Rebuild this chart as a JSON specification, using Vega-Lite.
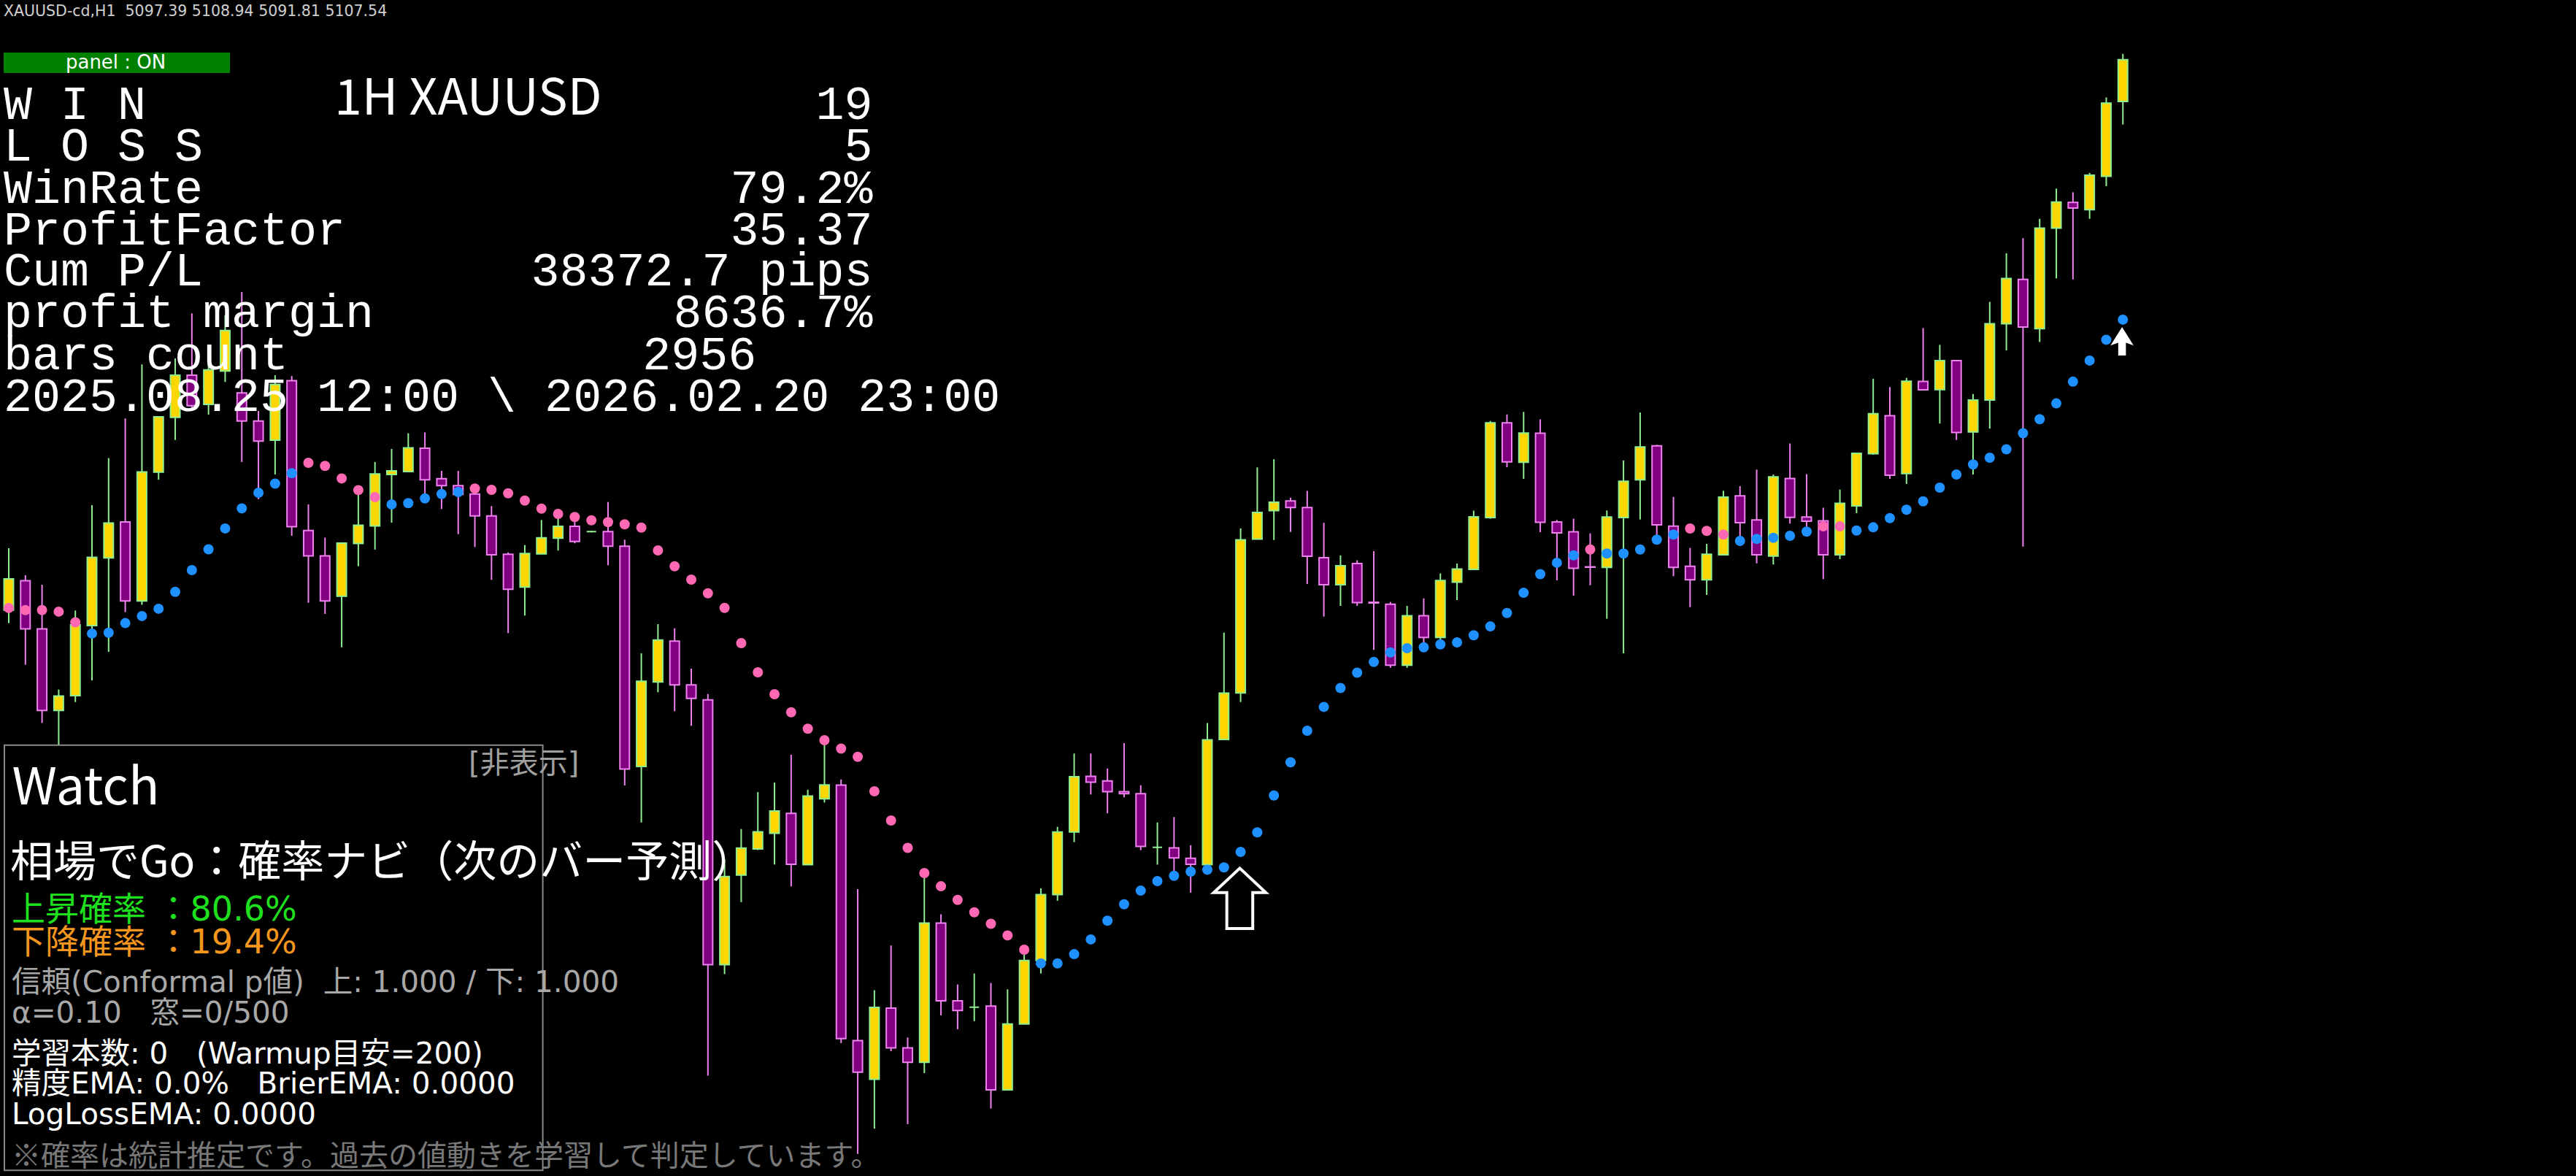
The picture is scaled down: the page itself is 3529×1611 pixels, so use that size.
{
"$schema": "https://vega.github.io/schema/vega-lite/v6.json",
"width": 3529, "height": 1611,
"autosize": {"type": "fit", "contains": "padding"},
"padding": 0,
"background": "#000000",
"config": {"view": {"stroke": null}},
"datasets": {
"candles": [
{"bar":0,"o":4974.08,"h":4989.07,"l":4970.91,"c":4981.66,"sar":4974.58,"side":"down"},
{"bar":1,"o":4981.21,"h":4982.54,"l":4960.81,"c":4969.53,"sar":4974.08,"side":"down"},
{"bar":2,"o":4969.53,"h":4980.22,"l":4946.70,"c":4949.74,"sar":4974.08,"side":"down"},
{"bar":3,"o":4949.74,"h":4954.81,"l":4941.46,"c":4953.21,"sar":4973.69,"side":"down"},
{"bar":4,"o":4953.34,"h":4973.96,"l":4951.76,"c":4970.49,"sar":4971.11,"side":"down"},
{"bar":5,"o":4970.29,"h":4999.52,"l":4957.02,"c":4986.84,"sar":4968.38,"side":"up"},
{"bar":6,"o":4986.72,"h":5010.93,"l":4963.96,"c":4995.20,"sar":4968.58,"side":"up"},
{"bar":7,"o":4995.44,"h":5020.54,"l":4973.57,"c":4976.29,"sar":4970.91,"side":"up"},
{"bar":8,"o":4976.29,"h":5033.62,"l":4975.34,"c":5007.59,"sar":4972.63,"side":"up"},
{"bar":9,"o":5007.53,"h":5020.93,"l":5005.69,"c":5020.93,"sar":4974.40,"side":"up"},
{"bar":10,"o":5020.81,"h":5035.09,"l":5015.32,"c":5031.02,"sar":4978.51,"side":"up"},
{"bar":11,"o":5031.02,"h":5046.01,"l":5022.88,"c":5023.64,"sar":4983.76,"side":"up"},
{"bar":12,"o":5023.94,"h":5034.69,"l":5021.46,"c":5032.30,"sar":4988.81,"side":"up"},
{"bar":13,"o":5032.03,"h":5045.59,"l":5029.38,"c":5041.87,"sar":4993.87,"side":"up"},
{"bar":14,"o":5026.72,"h":5051.20,"l":5009.98,"c":5019.92,"sar":4998.74,"side":"up"},
{"bar":15,"o":5019.91,"h":5022.35,"l":5000.95,"c":5015.04,"sar":5002.52,"side":"up"},
{"bar":16,"o":5015.29,"h":5031.02,"l":5006.95,"c":5028.76,"sar":5004.74,"side":"up"},
{"bar":17,"o":5029.71,"h":5030.84,"l":4992.10,"c":4994.31,"sar":5007.27,"side":"up"},
{"bar":18,"o":4993.36,"h":4999.69,"l":4975.85,"c":4987.23,"sar":5009.78,"side":"down"},
{"bar":19,"o":4987.23,"h":4991.66,"l":4973.14,"c":4976.29,"sar":5009.02,"side":"down"},
{"bar":20,"o":4977.43,"h":4990.33,"l":4965.04,"c":4990.33,"sar":5005.99,"side":"down"},
{"bar":21,"o":4990.21,"h":5002.52,"l":4984.70,"c":4994.63,"sar":5003.16,"side":"down"},
{"bar":22,"o":4994.49,"h":5009.98,"l":4988.74,"c":5007.07,"sar":5001.46,"side":"down"},
{"bar":23,"o":5006.95,"h":5013.14,"l":4995.27,"c":5007.83,"sar":4999.69,"side":"up"},
{"bar":24,"o":5007.66,"h":5016.95,"l":5007.66,"c":5013.41,"sar":4999.99,"side":"up"},
{"bar":25,"o":5013.32,"h":5017.16,"l":5000.45,"c":5005.66,"sar":5001.16,"side":"up"},
{"bar":26,"o":5005.94,"h":5007.83,"l":4998.58,"c":5004.24,"sar":5002.22,"side":"up"},
{"bar":27,"o":5004.24,"h":5007.83,"l":4992.49,"c":5002.12,"sar":5002.70,"side":"up"},
{"bar":28,"o":5002.22,"h":5002.22,"l":4989.37,"c":4996.91,"sar":5003.53,"side":"down"},
{"bar":29,"o":4996.91,"h":4999.29,"l":4981.41,"c":4987.48,"sar":5003.23,"side":"down"},
{"bar":30,"o":4987.60,"h":4988.06,"l":4968.49,"c":4979.11,"sar":5002.40,"side":"down"},
{"bar":31,"o":4979.64,"h":4989.83,"l":4972.74,"c":4987.78,"sar":5000.63,"side":"down"},
{"bar":32,"o":4987.71,"h":4995.92,"l":4987.71,"c":4991.60,"sar":4998.68,"side":"down"},
{"bar":33,"o":4991.50,"h":4996.33,"l":4988.49,"c":4994.38,"sar":4997.39,"side":"down"},
{"bar":34,"o":4994.38,"h":4995.44,"l":4990.26,"c":4990.72,"sar":4996.63,"side":"down"},
{"bar":35,"o":4993.09,"h":4993.30,"l":4992.90,"c":4993.09,"sar":4995.85,"side":"down"},
{"bar":36,"o":4993.09,"h":5000.28,"l":4984.95,"c":4989.55,"sar":4995.39,"side":"down"},
{"bar":37,"o":4989.55,"h":4991.14,"l":4931.55,"c":4935.53,"sar":4994.86,"side":"down"},
{"bar":38,"o":4936.15,"h":4963.58,"l":4922.57,"c":4956.81,"sar":4994.08,"side":"down"},
{"bar":39,"o":4956.63,"h":4970.66,"l":4954.15,"c":4966.82,"sar":4988.54,"side":"down"},
{"bar":40,"o":4966.54,"h":4969.66,"l":4949.55,"c":4955.92,"sar":4984.70,"side":"down"},
{"bar":41,"o":4955.92,"h":4959.87,"l":4946.01,"c":4952.66,"sar":4981.46,"side":"down"},
{"bar":42,"o":4952.31,"h":4953.73,"l":4861.19,"c":4888.09,"sar":4978.15,"side":"down"},
{"bar":43,"o":4888.09,"h":4913.62,"l":4885.81,"c":4909.48,"sar":4974.61,"side":"down"},
{"bar":44,"o":4909.81,"h":4921.00,"l":4903.26,"c":4916.38,"sar":4966.06,"side":"down"},
{"bar":45,"o":4916.17,"h":4929.95,"l":4915.88,"c":4920.31,"sar":4958.98,"side":"down"},
{"bar":46,"o":4919.95,"h":4932.26,"l":4912.38,"c":4925.35,"sar":4953.67,"side":"down"},
{"bar":47,"o":4924.79,"h":4939.00,"l":4907.07,"c":4912.43,"sar":4949.30,"side":"down"},
{"bar":48,"o":4912.36,"h":4930.52,"l":4912.36,"c":4928.96,"sar":4945.30,"side":"down"},
{"bar":49,"o":4928.31,"h":4942.17,"l":4927.41,"c":4931.69,"sar":4942.52,"side":"down"},
{"bar":50,"o":4931.64,"h":4933.00,"l":4869.07,"c":4870.18,"sar":4940.49,"side":"down"},
{"bar":51,"o":4869.69,"h":4906.40,"l":4842.22,"c":4862.02,"sar":4938.49,"side":"down"},
{"bar":52,"o":4860.29,"h":4881.90,"l":4848.32,"c":4877.76,"sar":4930.13,"side":"down"},
{"bar":53,"o":4877.56,"h":4892.75,"l":4867.12,"c":4867.90,"sar":4923.05,"side":"down"},
{"bar":54,"o":4867.90,"h":4870.43,"l":4849.42,"c":4864.41,"sar":4916.41,"side":"down"},
{"bar":55,"o":4864.41,"h":4909.76,"l":4861.81,"c":4898.20,"sar":4910.31,"side":"down"},
{"bar":56,"o":4898.20,"h":4900.31,"l":4875.81,"c":4879.32,"sar":4907.10,"side":"down"},
{"bar":57,"o":4879.32,"h":4883.30,"l":4872.45,"c":4877.00,"sar":4903.81,"side":"down"},
{"bar":58,"o":4877.78,"h":4885.95,"l":4874.41,"c":4877.78,"sar":4900.80,"side":"down"},
{"bar":59,"o":4878.06,"h":4883.65,"l":4853.21,"c":4857.76,"sar":4898.01,"side":"down"},
{"bar":60,"o":4857.76,"h":4882.11,"l":4857.76,"c":4873.72,"sar":4895.19,"side":"down"},
{"bar":61,"o":4873.72,"h":4890.50,"l":4873.72,"c":4889.10,"sar":4891.71,"side":"down"},
{"bar":62,"o":4889.10,"h":4906.61,"l":4885.95,"c":4905.07,"sar":4888.41,"side":"up"},
{"bar":63,"o":4905.07,"h":4921.51,"l":4903.60,"c":4920.26,"sar":4888.41,"side":"up"},
{"bar":64,"o":4920.26,"h":4939.30,"l":4917.81,"c":4933.69,"sar":4890.64,"side":"up"},
{"bar":65,"o":4933.76,"h":4939.30,"l":4929.35,"c":4932.36,"sar":4894.22,"side":"up"},
{"bar":66,"o":4932.65,"h":4935.65,"l":4924.80,"c":4930.06,"sar":4898.77,"side":"up"},
{"bar":67,"o":4930.06,"h":4941.81,"l":4928.66,"c":4929.57,"sar":4902.75,"side":"up"},
{"bar":68,"o":4929.57,"h":4931.60,"l":4915.85,"c":4916.75,"sar":4906.04,"side":"up"},
{"bar":69,"o":4916.54,"h":4922.57,"l":4912.34,"c":4916.54,"sar":4908.36,"side":"up"},
{"bar":70,"o":4916.43,"h":4923.90,"l":4910.80,"c":4913.97,"sar":4909.64,"side":"up"},
{"bar":71,"o":4913.90,"h":4917.07,"l":4905.55,"c":4912.45,"sar":4910.66,"side":"up"},
{"bar":72,"o":4912.34,"h":4946.68,"l":4912.34,"c":4942.61,"sar":4911.12,"side":"up"},
{"bar":73,"o":4942.70,"h":4968.61,"l":4942.70,"c":4953.92,"sar":4911.69,"side":"up"},
{"bar":74,"o":4953.99,"h":4993.89,"l":4951.78,"c":4991.13,"sar":4915.44,"side":"up"},
{"bar":75,"o":4991.29,"h":5008.67,"l":4991.29,"c":4997.76,"sar":4920.17,"side":"up"},
{"bar":76,"o":4998.17,"h":5010.65,"l":4991.06,"c":5000.22,"sar":4929.11,"side":"up"},
{"bar":77,"o":5000.52,"h":5001.32,"l":4993.02,"c":4998.95,"sar":4937.16,"side":"up"},
{"bar":78,"o":4998.95,"h":5002.99,"l":4980.38,"c":4987.11,"sar":4944.82,"side":"up"},
{"bar":79,"o":4986.79,"h":4995.23,"l":4972.49,"c":4980.22,"sar":4950.59,"side":"up"},
{"bar":80,"o":4980.22,"h":4987.34,"l":4975.09,"c":4984.81,"sar":4955.18,"side":"up"},
{"bar":81,"o":4985.36,"h":4986.15,"l":4975.09,"c":4975.89,"sar":4958.89,"side":"up"},
{"bar":82,"o":4975.97,"h":4988.36,"l":4964.42,"c":4975.80,"sar":4961.50,"side":"up"},
{"bar":83,"o":4975.48,"h":4976.05,"l":4960.08,"c":4960.70,"sar":4963.80,"side":"up"},
{"bar":84,"o":4960.70,"h":4975.09,"l":4960.08,"c":4972.72,"sar":4964.82,"side":"up"},
{"bar":85,"o":4972.72,"h":4976.91,"l":4966.01,"c":4967.43,"sar":4965.05,"side":"up"},
{"bar":86,"o":4967.43,"h":4982.98,"l":4966.79,"c":4981.25,"sar":4965.76,"side":"up"},
{"bar":87,"o":4980.86,"h":4985.36,"l":4976.51,"c":4984.01,"sar":4966.24,"side":"up"},
{"bar":88,"o":4983.94,"h":4998.19,"l":4983.94,"c":4996.68,"sar":4967.97,"side":"up"},
{"bar":89,"o":4996.51,"h":5019.92,"l":4996.21,"c":5019.46,"sar":4970.12,"side":"up"},
{"bar":90,"o":5019.46,"h":5021.52,"l":5008.72,"c":5010.01,"sar":4973.36,"side":"up"},
{"bar":91,"o":5009.91,"h":5022.12,"l":5005.89,"c":5016.99,"sar":4978.26,"side":"up"},
{"bar":92,"o":5016.95,"h":5020.31,"l":4992.97,"c":4995.36,"sar":4982.79,"side":"up"},
{"bar":93,"o":4995.44,"h":4995.92,"l":4981.28,"c":4992.79,"sar":4985.55,"side":"up"},
{"bar":94,"o":4993.06,"h":4996.24,"l":4977.57,"c":4984.21,"sar":4987.36,"side":"up"},
{"bar":95,"o":4984.56,"h":4992.67,"l":4980.10,"c":4984.47,"sar":4988.77,"side":"down"},
{"bar":96,"o":4984.42,"h":4998.22,"l":4971.96,"c":4996.63,"sar":4987.78,"side":"up"},
{"bar":97,"o":4996.51,"h":5010.37,"l":4963.58,"c":5005.30,"sar":4987.78,"side":"up"},
{"bar":98,"o":5005.66,"h":5021.99,"l":4996.03,"c":5013.62,"sar":4988.77,"side":"up"},
{"bar":99,"o":5013.91,"h":5014.15,"l":4992.21,"c":4994.74,"sar":4991.14,"side":"up"},
{"bar":100,"o":4994.44,"h":5001.52,"l":4982.29,"c":4984.42,"sar":4992.38,"side":"up"},
{"bar":101,"o":4984.70,"h":4989.13,"l":4974.79,"c":4981.41,"sar":4993.85,"side":"down"},
{"bar":102,"o":4981.41,"h":4990.13,"l":4977.74,"c":4987.60,"sar":4993.27,"side":"down"},
{"bar":103,"o":4987.48,"h":5003.00,"l":4987.48,"c":5001.46,"sar":4992.38,"side":"down"},
{"bar":104,"o":5001.76,"h":5004.12,"l":4990.90,"c":4995.27,"sar":4990.84,"side":"up"},
{"bar":105,"o":4995.92,"h":5008.14,"l":4985.41,"c":4987.48,"sar":4991.32,"side":"up"},
{"bar":106,"o":4987.18,"h":5006.95,"l":4985.13,"c":5006.37,"sar":4991.60,"side":"up"},
{"bar":107,"o":5005.98,"h":5014.47,"l":4995.04,"c":4996.56,"sar":4992.08,"side":"up"},
{"bar":108,"o":4996.63,"h":5007.04,"l":4994.26,"c":4995.62,"sar":4993.11,"side":"up"},
{"bar":109,"o":4995.71,"h":4998.90,"l":4981.59,"c":4987.48,"sar":4994.37,"side":"down"},
{"bar":110,"o":4987.48,"h":5003.29,"l":4986.42,"c":4999.96,"sar":4994.37,"side":"down"},
{"bar":111,"o":4999.34,"h":5012.08,"l":4997.57,"c":5012.08,"sar":4993.37,"side":"up"},
{"bar":112,"o":5011.99,"h":5030.14,"l":5011.73,"c":5021.68,"sar":4994.14,"side":"up"},
{"bar":113,"o":5021.20,"h":5028.14,"l":5005.92,"c":5006.77,"sar":4996.37,"side":"up"},
{"bar":114,"o":5007.16,"h":5030.37,"l":5004.65,"c":5029.54,"sar":4998.42,"side":"up"},
{"bar":115,"o":5029.50,"h":5042.47,"l":5027.48,"c":5027.48,"sar":5000.45,"side":"up"},
{"bar":116,"o":5027.52,"h":5038.40,"l":5019.30,"c":5034.58,"sar":5003.76,"side":"up"},
{"bar":117,"o":5034.58,"h":5034.58,"l":5015.32,"c":5017.11,"sar":5006.95,"side":"up"},
{"bar":118,"o":5017.27,"h":5026.46,"l":5006.95,"c":5025.00,"sar":5009.39,"side":"up"},
{"bar":119,"o":5025.00,"h":5048.81,"l":5018.08,"c":5043.52,"sar":5011.02,"side":"up"},
{"bar":120,"o":5043.52,"h":5060.58,"l":5037.02,"c":5054.49,"sar":5013.06,"side":"up"},
{"bar":121,"o":5054.24,"h":5064.24,"l":4989.48,"c":5042.70,"sar":5016.95,"side":"up"},
{"bar":122,"o":5042.30,"h":5068.95,"l":5039.06,"c":5066.69,"sar":5020.37,"side":"up"},
{"bar":123,"o":5066.69,"h":5076.28,"l":5054.49,"c":5073.02,"sar":5024.19,"side":"up"},
{"bar":124,"o":5072.94,"h":5075.38,"l":5054.24,"c":5071.55,"sar":5029.46,"side":"up"},
{"bar":125,"o":5071.15,"h":5080.09,"l":5068.95,"c":5079.52,"sar":5034.58,"side":"up"},
{"bar":126,"o":5079.27,"h":5098.37,"l":5076.85,"c":5096.99,"sar":5039.62,"side":"up"},
{"bar":127,"o":5097.39,"h":5108.94,"l":5091.81,"c":5107.54,"sar":5044.49,"side":"up"}
],
"watch_frame": [{"x0":-0.262,"x1":32.08,"p0":4941.34,"p1":4838.22}],
"panel_frame": [{"x0":-0.3061,"x1":13.29,"p0":5109.26,"p1":5104.3}],
"entry_arrow": [{"bar":73.95,"price":4904.17}],
"signal_arrow": [{"bar":126.95,"price":5039.25}],
"header": [{"text":"XAUUSD-cd,H1\u00a0\u00a05097.39 5108.94 5091.81 5107.54","bar":-0.306,"price":5118.07}],
"panel_label": [{"text":"panel : ON","bar":6.43,"price":5106.78}],
"title": [{"text":"1H XAUUSD","bar":27.59,"price":5094.21}],
"stats_labels": [
{"text":"W I N","bar":-0.306,"price":5093.18},
{"text":"L O S S","bar":-0.306,"price":5083.06},
{"text":"WinRate","bar":-0.306,"price":5072.88},
{"text":"ProfitFactor","bar":-0.306,"price":5062.74},
{"text":"Cum P/L","bar":-0.306,"price":5052.72},
{"text":"profit margin","bar":-0.306,"price":5042.63},
{"text":"bars count","bar":-0.306,"price":5032.44},
{"text":"2025.08.25 12:00 \\ 2026.02.20 23:00","bar":-0.306,"price":5022.35}
],
"stats_values": [
{"text":"19","bar":51.90,"price":5093.18},
{"text":"5","bar":51.90,"price":5083.06},
{"text":"79.2%","bar":51.90,"price":5072.88},
{"text":"35.37","bar":51.90,"price":5062.74},
{"text":"38372.7 pips","bar":51.90,"price":5052.72},
{"text":"8636.7%","bar":51.90,"price":5042.63},
{"text":"2956","bar":44.91,"price":5032.44}
],
"watch_hide": [{"text":"[非表示]","bar":27.63,"price":4936.68}],
"watch_title": [{"text":"Watch","bar":0.197,"price":4926.95}],
"watch_heading": [{"text":"相場でGo：確率ナビ（次のバー予測）","bar":0.087,"price":4912.61}],
"watch_up": [{"text":"上昇確率 ：80.6%","bar":0.175,"price":4901.2}],
"watch_down": [{"text":"下降確率 ：19.4%","bar":0.175,"price":4893.4}],
"watch_conf": [
{"text":"信頼(Conformal p値)\u00a0\u00a0上: 1.000 / 下: 1.000","bar":0.175,"price":4883.6},
{"text":"α=0.10\u00a0\u00a0\u00a0窓=0/500","bar":0.175,"price":4876.2}
],
"watch_stats": [
{"text":"学習本数: 0\u00a0\u00a0\u00a0(Warmup目安=200)","bar":0.175,"price":4866.3},
{"text":"精度EMA: 0.0%\u00a0\u00a0\u00a0BrierEMA: 0.0000","bar":0.175,"price":4858.9},
{"text":"LogLossEMA: 0.0000","bar":0.175,"price":4851.5}
],
"watch_note": [{"text":"※確率は統計推定です。過去の値動きを学習して判定しています。","bar":0.175,"price":4841.4}]
},
"encoding": {
"x": {"field": "bar", "type": "quantitative", "scale": {"domain": [-0.3061, 153.9991], "nice": false, "zero": false}, "axis": null}
},
"layer": [
{"data": {"name": "watch_frame"},
 "mark": {"type": "rect", "fill": "#000000", "stroke": "#8a8a8a", "strokeWidth": 2},
 "encoding": {
  "x": {"field": "x0", "type": "quantitative"}, "x2": {"field": "x1"},
  "y": {"field": "p0", "type": "quantitative", "scale": {"domain": [4836.853, 5122], "nice": false, "zero": false}, "axis": null},
  "y2": {"field": "p1"}}},
{"data": {"name": "candles"},
 "mark": {"type": "rule", "strokeWidth": 2},
 "encoding": {
  "y": {"field": "h", "type": "quantitative", "scale": {"domain": [4836.853, 5122], "nice": false, "zero": false}, "axis": null},
  "y2": {"field": "l"},
  "color": {"condition": {"test": "datum.c >= datum.o", "value": "#90ee90"}, "value": "#ee82ee"}}},
{"data": {"name": "candles"},
 "mark": {"type": "bar", "width": 13, "strokeWidth": 2},
 "encoding": {
  "y": {"field": "o", "type": "quantitative", "scale": {"domain": [4836.853, 5122], "nice": false, "zero": false}, "axis": null},
  "y2": {"field": "c"},
  "fill": {"condition": {"test": "datum.c >= datum.o", "value": "#ffd700"}, "value": "#800080"},
  "stroke": {"condition": {"test": "datum.c >= datum.o", "value": "#90ee90"}, "value": "#ee82ee"}}},
{"data": {"name": "candles"},
 "mark": {"type": "point", "filled": true, "size": 196, "opacity": 1},
 "encoding": {
  "y": {"field": "sar", "type": "quantitative", "scale": {"domain": [4836.853, 5122], "nice": false, "zero": false}, "axis": null},
  "color": {"field": "side", "type": "nominal", "scale": {"domain": ["down", "up"], "range": ["#ff69b4", "#1e90ff"]}, "legend": null}}},
{"data": {"name": "entry_arrow"},
 "mark": {"type": "point", "shape": "M0,-1L0.864,-0.189L0.43,-0.189L0.43,1L-0.43,1L-0.43,-0.189L-0.864,-0.189Z", "size": 6823, "filled": true, "fill": "#000000", "stroke": "#ffffff", "strokeWidth": 4, "opacity": 1},
 "encoding": {
  "y": {"field": "price", "type": "quantitative", "scale": {"domain": [4836.853, 5122], "nice": false, "zero": false}, "axis": null}}},
{"data": {"name": "signal_arrow"},
 "mark": {"type": "point", "shape": "M0,-1L0.81,0.29L0.27,0.1L0.27,1L-0.27,1L-0.27,0.1L-0.81,0.29Z", "size": 1521, "filled": true, "fill": "#ffffff", "strokeWidth": 0, "opacity": 1},
 "encoding": {
  "y": {"field": "price", "type": "quantitative", "scale": {"domain": [4836.853, 5122], "nice": false, "zero": false}, "axis": null}}},
{"data": {"name": "panel_frame"},
 "mark": {"type": "rect", "fill": "#008000"},
 "encoding": {
  "x": {"field": "x0", "type": "quantitative"}, "x2": {"field": "x1"},
  "y": {"field": "p0", "type": "quantitative", "scale": {"domain": [4836.853, 5122], "nice": false, "zero": false}, "axis": null},
  "y2": {"field": "p1"}}},
{"data": {"name": "panel_label"},
 "mark": {"type": "text", "font": "DejaVu Sans", "fontSize": 26, "color": "#ffffff", "align": "center", "baseline": "middle"},
 "encoding": {"y": {"field": "price", "type": "quantitative", "scale": {"domain": [4836.853, 5122], "nice": false, "zero": false}, "axis": null}, "text": {"field": "text"}}},
{"data": {"name": "header"},
 "mark": {"type": "text", "font": "DejaVu Sans", "fontSize": 20.5, "color": "#d0d0d0", "align": "left", "baseline": "alphabetic"},
 "encoding": {"y": {"field": "price", "type": "quantitative", "scale": {"domain": [4836.853, 5122], "nice": false, "zero": false}, "axis": null}, "text": {"field": "text"}}},
{"data": {"name": "title"},
 "mark": {"type": "text", "font": "Noto Sans CJK JP", "fontSize": 68, "color": "#ffffff", "align": "center", "baseline": "alphabetic"},
 "encoding": {"y": {"field": "price", "type": "quantitative", "scale": {"domain": [4836.853, 5122], "nice": false, "zero": false}, "axis": null}, "text": {"field": "text"}}},
{"data": {"name": "stats_labels"},
 "mark": {"type": "text", "font": "Liberation Mono", "fontSize": 65, "color": "#ffffff", "align": "left", "baseline": "alphabetic"},
 "encoding": {"y": {"field": "price", "type": "quantitative", "scale": {"domain": [4836.853, 5122], "nice": false, "zero": false}, "axis": null}, "text": {"field": "text"}}},
{"data": {"name": "stats_values"},
 "mark": {"type": "text", "font": "Liberation Mono", "fontSize": 65, "color": "#ffffff", "align": "right", "baseline": "alphabetic"},
 "encoding": {"y": {"field": "price", "type": "quantitative", "scale": {"domain": [4836.853, 5122], "nice": false, "zero": false}, "axis": null}, "text": {"field": "text"}}},
{"data": {"name": "watch_hide"},
 "mark": {"type": "text", "font": "DejaVu Sans, Noto Sans CJK JP", "fontSize": 40, "color": "#a0a0a0", "align": "left", "baseline": "middle"},
 "encoding": {"y": {"field": "price", "type": "quantitative", "scale": {"domain": [4836.853, 5122], "nice": false, "zero": false}, "axis": null}, "text": {"field": "text"}}},
{"data": {"name": "watch_title"},
 "mark": {"type": "text", "font": "Noto Sans CJK JP", "fontSize": 70, "color": "#ffffff", "align": "left", "baseline": "alphabetic"},
 "encoding": {"y": {"field": "price", "type": "quantitative", "scale": {"domain": [4836.853, 5122], "nice": false, "zero": false}, "axis": null}, "text": {"field": "text"}}},
{"data": {"name": "watch_heading"},
 "mark": {"type": "text", "font": "Noto Sans CJK JP", "fontSize": 59, "color": "#ffffff", "align": "left", "baseline": "middle"},
 "encoding": {"y": {"field": "price", "type": "quantitative", "scale": {"domain": [4836.853, 5122], "nice": false, "zero": false}, "axis": null}, "text": {"field": "text"}}},
{"data": {"name": "watch_up"},
 "mark": {"type": "text", "font": "DejaVu Sans, Noto Sans CJK JP", "fontSize": 46, "color": "#1fe01f", "align": "left", "baseline": "middle"},
 "encoding": {"y": {"field": "price", "type": "quantitative", "scale": {"domain": [4836.853, 5122], "nice": false, "zero": false}, "axis": null}, "text": {"field": "text"}}},
{"data": {"name": "watch_down"},
 "mark": {"type": "text", "font": "DejaVu Sans, Noto Sans CJK JP", "fontSize": 46, "color": "#f5961e", "align": "left", "baseline": "middle"},
 "encoding": {"y": {"field": "price", "type": "quantitative", "scale": {"domain": [4836.853, 5122], "nice": false, "zero": false}, "axis": null}, "text": {"field": "text"}}},
{"data": {"name": "watch_conf"},
 "mark": {"type": "text", "font": "DejaVu Sans, Noto Sans CJK JP", "fontSize": 40.5, "color": "#a8a8a8", "align": "left", "baseline": "middle"},
 "encoding": {"y": {"field": "price", "type": "quantitative", "scale": {"domain": [4836.853, 5122], "nice": false, "zero": false}, "axis": null}, "text": {"field": "text"}}},
{"data": {"name": "watch_stats"},
 "mark": {"type": "text", "font": "DejaVu Sans, Noto Sans CJK JP", "fontSize": 40.5, "color": "#ffffff", "align": "left", "baseline": "middle"},
 "encoding": {"y": {"field": "price", "type": "quantitative", "scale": {"domain": [4836.853, 5122], "nice": false, "zero": false}, "axis": null}, "text": {"field": "text"}}},
{"data": {"name": "watch_note"},
 "mark": {"type": "text", "font": "Noto Sans CJK JP", "fontSize": 40, "color": "#787878", "align": "left", "baseline": "middle"},
 "encoding": {"y": {"field": "price", "type": "quantitative", "scale": {"domain": [4836.853, 5122], "nice": false, "zero": false}, "axis": null}, "text": {"field": "text"}}}
]
}
